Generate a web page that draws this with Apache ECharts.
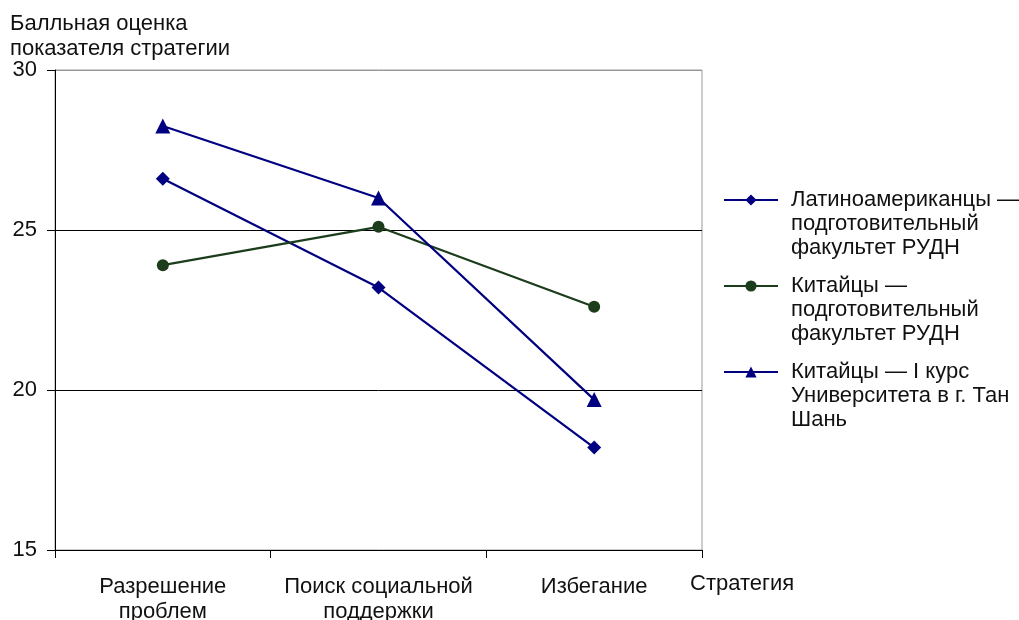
<!DOCTYPE html>
<html><head><meta charset="utf-8">
<script src="https://cdn.jsdelivr.net/npm/echarts@6/dist/echarts.min.js"></script>
<style>html,body{margin:0;padding:0;background:#fff}#c{width:1019px;height:620px}</style>
</head><body><div id="c"></div>
<script>
const categories = ['Разрешение\nпроблем', 'Поиск социальной\nподдержки', 'Избегание'];
const seriesNames = ['Латиноамериканцы —\nподготовительный\nфакультет РУДН', 'Китайцы —\nподготовительный\nфакультет РУДН', 'Китайцы — I курс\nУниверситета в г. Тан\nШань'];
const latinPrep = [26.6, 23.2, 18.2];
const chinaPrep = [23.9, 25.1, 22.6];
const chinaTangshan = [28.25, 26.0, 19.7];
const yTicks = [15, 20, 25, 30];

const FONT = 'Liberation Sans, Arial, sans-serif';
const FS = 22;
const chart = echarts.init(document.getElementById('c'));
chart.setOption({
  backgroundColor: '#fff',
  animation: false,
  title: {
    text: 'Балльная оценка\nпоказателя стратегии',
    left: 5, top: 6,
    textStyle: { fontFamily: FONT, fontSize: FS, fontWeight: 'normal', color: '#111', lineHeight: 25 }
  },
  graphic: [{
    type: 'text', left: 690, top: 573,
    style: { text: 'Стратегия', font: FS + 'px ' + FONT, fill: '#111' }
  }],
  grid: { left: 55, right: 317, top: 70, bottom: 70, show: true, borderColor: '#999', borderWidth: 1,
          containLabel: false, outerBoundsMode: 'none' },
  legend: {
    orient: 'vertical', left: 718, top: 135,
    itemWidth: 54, itemHeight: 14, itemGap: -34,
    data: seriesNames,
    formatter: function (n) { return '\n\n' + n; },
    textStyle: { fontFamily: FONT, fontSize: FS, color: '#111', lineHeight: 24, padding: [0, 0, 0, 8] }
  },
  xAxis: {
    type: 'category', data: categories, boundaryGap: true,
    axisLine: { lineStyle: { color: '#000', width: 1 } },
    axisTick: { show: true, alignWithLabel: false, length: 8, lineStyle: { color: '#000' } },
    axisLabel: { fontFamily: FONT, fontSize: FS, color: '#111', lineHeight: 25, margin: 24, interval: 0 },
    splitLine: { show: false }
  },
  yAxis: {
    type: 'value', min: yTicks[0], max: yTicks[yTicks.length - 1], interval: 5,
    axisLine: { show: true, lineStyle: { color: '#000', width: 1 } },
    axisTick: { show: true, length: 8, lineStyle: { color: '#000' } },
    axisLabel: { fontFamily: FONT, fontSize: FS, color: '#111', margin: 18 },
    splitLine: { show: true, lineStyle: { color: ['#000', '#000', '#000', '#999'], width: 1 } }
  },
  series: [
    { name: seriesNames[0], type: 'line', data: latinPrep, symbol: 'diamond', symbolSize: 14,
      itemStyle: { color: '#000080' }, lineStyle: { color: '#000080', width: 2.2 } },
    { name: seriesNames[1], type: 'line', data: chinaPrep, symbol: 'circle', symbolSize: 12,
      itemStyle: { color: '#1c3d1c' }, lineStyle: { color: '#1c3d1c', width: 2.2 } },
    { name: seriesNames[2], type: 'line', data: chinaTangshan, symbol: 'triangle', symbolSize: 15,
      itemStyle: { color: '#000080' }, lineStyle: { color: '#000080', width: 2.2 } }
  ]
});
</script></body></html>
